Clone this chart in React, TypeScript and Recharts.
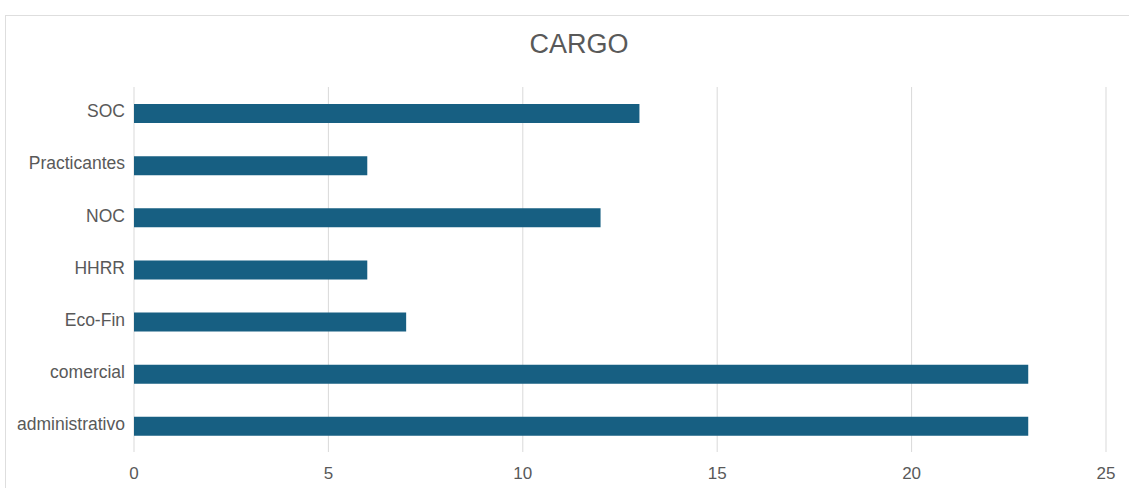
import React from "react";
import { BarChart, Bar, XAxis, YAxis, CartesianGrid } from "recharts";

const categories = ["SOC", "Practicantes", "NOC", "HHRR", "Eco-Fin", "comercial", "administrativo"];
const values = [13, 6, 12, 6, 7, 23, 23];
const xTicks = [0, 5, 10, 15, 20, 25];
const title = "CARGO";

const data = categories.map((c, i) => ({ name: c, value: values[i] }));

const FONT = "'Liberation Sans', Arial, Helvetica, sans-serif";
const TEXT = "#595959";

export default function App() {
  return (
    <div style={{ position: "absolute", left: 0, top: 0, width: 1129, height: 488, overflow: "hidden", background: "#fff", fontFamily: FONT }}>
      <div style={{ position: "absolute", left: 5, top: 15, width: 1160, height: 520, border: "1px solid #dedede", boxSizing: "border-box" }} />
      <div style={{ position: "absolute", left: 5, top: 26, width: 1148, textAlign: "center", fontSize: 27, color: TEXT, lineHeight: "36px" }}>
        {title}
      </div>
      <div style={{ position: "absolute", left: 0, top: 0 }}>
        <BarChart
          width={1129}
          height={488}
          data={data}
          layout="vertical"
          margin={{ top: 87, right: 23, bottom: 6, left: 0 }}
          barCategoryGap={0}
        >
          <CartesianGrid horizontal={false} vertical={true} stroke="#d9d9d9" strokeWidth={1} />
          <XAxis
            type="number"
            domain={[0, 25]}
            ticks={xTicks}
            axisLine={false}
            tickLine={false}
            tickMargin={9}
            height={30}
            interval={0}
            tick={{ fill: TEXT, fontSize: 17, fontFamily: FONT }}
          />
          <YAxis
            type="category"
            dataKey="name"
            width={134}
            axisLine={false}
            tickLine={false}
            tickMargin={3}
            interval={0}
            tick={{ fill: TEXT, fontSize: 17.5, fontFamily: FONT, dy: -2 }}
          />
          <Bar dataKey="value" fill="#175f82" barSize={19} isAnimationActive={false} />
        </BarChart>
      </div>
    </div>
  );
}
